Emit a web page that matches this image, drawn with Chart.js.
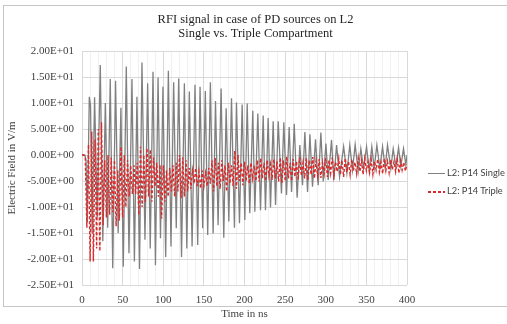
<!DOCTYPE html>
<html>
<head>
<meta charset="utf-8">
<script src="https://cdn.jsdelivr.net/npm/chart.js@4.4.1/dist/chart.umd.min.js"></script>
<style>
  html, body { margin: 0; padding: 0; background: #fff; overflow: hidden; }
  #wrap { position: relative; width: 507px; height: 324px; }
  #frame { position: absolute; left: 3px; top: 5px; width: 504px; height: 302px;
           border: 1px solid #c6c6c6; border-right: none; box-sizing: border-box; }
  #chart { position: absolute; left: 0; top: 0; }
  .leg { position: absolute; left: 428px; height: 12px; line-height: 12px;
         font-family: Lato, "Liberation Sans", sans-serif; font-size: 9.3px; color: #404040; white-space: nowrap; }
  .leg i { display: inline-block; width: 17px; height: 1.5px; vertical-align: middle; margin-right: 2px; }
  .leg .single { background: #808080; }
  .leg .triple { background: repeating-linear-gradient(90deg, #d92b2b 0 3px, transparent 3px 5px); height: 2px; }
</style>
</head>
<body>
<div id="wrap">
  <div id="frame"></div>
  <canvas id="chart" width="507" height="324"></canvas>
  <div class="leg" style="top:167px"><i class="single"></i>L2: P14 Single</div>
  <div class="leg" style="top:185px"><i class="triple"></i>L2: P14 Triple</div>
</div>
<script>
// Single compartment: peaks / troughs (time in ns, field in V/m)
const singleTimes = [
    0, 3.5, 5, 6.5, 9, 10.5, 12.5, 15.5, 18.8, 22.5,
    25.6, 28.7, 31.6, 34.8, 37.8, 41.3, 44.5, 47.9, 50.8, 54.5,
    57.8, 61.5, 64.5, 67.6, 70.8, 73.8, 77.5, 80.8, 84, 87.4,
    90.4, 93.6, 96.6, 99.6, 103, 106.3, 109.5, 112.8, 116, 119,
    122.5, 126, 129, 132.1, 135.5, 139.1, 142.4, 145.3, 148.5, 151.8,
    154.7, 158, 161.4, 164.3, 167.5, 171.2, 174.5, 177.4, 180.7, 184,
    187.6, 190.1, 193.8, 197.1, 200.4, 203.3, 206.5, 210.2, 212.7, 216.4,
    219.7, 223, 225.8, 229.1, 232, 235.3, 238.2, 241.5, 245.5, 248.4,
    251.7, 255, 257.9, 261.2, 264.8, 268.1, 271.4, 274.3, 277.6, 280.5,
    283.7, 287.4, 290.7, 294, 296.9, 300.2, 303, 307.1, 310, 313.3,
    317, 322, 326, 329.6, 332.9, 336.2, 339.9, 343.2, 346.5, 350.2,
    353.4, 356.7, 359.6, 362.9, 366.6, 369.9, 373.1, 376, 380.1, 383,
    386.3, 389.6, 392.4, 395.7, 398.6, 400
];
const singleValues = [
    0, 0, -1, -13, 11.2, 9.5, -15, 11.1, -12, 17.3,
    -16.6, 10, -14, 14.6, -21.8, 14.3, -15, 9.1, -21.5, 17,
    -18.9, 14.6, -20.5, 11.2, -21.9, 17.8, -16.3, 13.8, -18, 16,
    -21.2, 14.9, -16, 13.1, -19.6, 16.2, -17.6, 14, -14.1, 14.7,
    -19.6, 13.8, -18, 12.2, -17.6, 13.5, -17.3, 13.1, -14.1, 12.3,
    -15.4, 14, -15.1, 10.4, -13.5, 12.8, -15.9, 9, -12.8, 10.9,
    -14, 10.1, -13.1, 9.7, -12.5, 9.9, -11.2, 8.5, -10.9, 8,
    -10.6, 7.6, -10.6, 7.1, -10.1, 6.5, -9.6, 6.5, -7.4, 6.3,
    -7.7, 5.4, -7.1, 6, -8.2, 1.9, -5.8, 4.4, -7.1, 4,
    -6.1, 3, -5.8, 4.3, -5.1, 2.2, -4.8, 2.9, -4.8, 1.9,
    -4.2, 1.6, -3.5, 1.9, -2.9, 2, -3.2, 1.2, -2.6, 1.6,
    -2.9, 1.6, -2.6, 1.9, -2.6, 1.6, -2.4, 1.9, -2.6, 1.2,
    -2.2, 1.4, -2.2, 1.2, -1.9, 0
];

// Triple compartment: one sample every 2 ns, 0..400
const tripleStep = 2;
const tripleValues = [
    0, 0, -0.3, -14, 2, -20.5, 4.5, -20.5, 3, -18,            // 0-18
    5, -18.5, 6.3, -13.5, -1, -12, 0, -11.5, -0.5, -11,        // 20-38
    -1, -13.7, -3, -12.6, 1.6, -12, 0, -10, -1, -8,            // 40-58
    -2, -7.5, -2, -7.5, -1.5, -11.5, 1.6, -10, 0, -9,          // 60-78
    1.3, -8, 1, -9, -0.5, -6, -1.5, -8, -1.9, -12.2,           // 80-98
    -2, -9, -3, -8, -2.5, -7, -2, -8, -1.5, -7,                // 100-118
    0, -8.3, -0.5, -8, -1, -7, -2.5, -6.5, -3, -5.5,           // 120-138
    -2.5, -6, -3.2, -6.4, -3, -6, -3.5, -6, -2.5, -5.5,        // 140-158
    -1, -7, -0.6, -6, -1.5, -6.5, -1, -5, -2, -7,              // 160-178
    -1.5, -5.5, -2, -6, 0.8, -6.5, 0, -5, -1.5, -5.8,          // 180-198
    -1.3, -5, -2, -5.5, -1.5, -4.5, -2, -5, -1, -5.1,          // 200-218
    -0.6, -4.5, -1.5, -5, -1, -4, -1.8, -4.8, -0.8, -4.5,      // 220-238
    -1.2, -5.1, -0.5, -5.4, -1, -5, -0.3, -4.5, -1.5, -5,      // 240-258
    -0.8, -4.2, -1.2, -4.8, -0.5, -4, -1.5, -4.5, -0.6, -4.8,  // 260-278
    -1, -3.8, -0.4, -4.5, -1.2, -4, -0.8, -4.4, -1.5, -3.6,    // 280-298
    -0.6, -4.2, -1, -3.5, -0.5, -4, -1.3, -3.2, -0.7, -3.8,    // 300-318
    -1, -4.2, -0.6, -3.3, -1.2, -3.8, -0.8, -3, -1.4, -3.6,    // 320-338
    -0.6, -3.2, -1.1, -3.8, -0.7, -3, -1.3, -3.4, -0.9, -3.7,  // 340-358
    -1.2, -2.9, -0.8, -3.3, -1.4, -3.6, -0.7, -3, -1.2, -3.4,  // 360-378
    -0.9, -2.8, -1.3, -3.2, -0.8, -3.5, -1.1, -2.9, -1.4, -3.1, // 380-398
    -1.8                                                       // 400
];

const yTicks = [-25, -20, -15, -10, -5, 0, 5, 10, 15, 20];
const xLabelStep = 50;

function sci(v) {
    const parts = v.toExponential(2).split('e');
    const n = parseInt(parts[1], 10);
    return parts[0] + 'E' + (n < 0 ? '-' : '+') + String(Math.abs(n)).padStart(2, '0');
}

const singlePts = singleTimes.map((t, i) => ({ x: t, y: singleValues[i] }));
const triplePts = tripleValues.map((v, i) => ({ x: i * tripleStep, y: v }));

const serif = '"Liberation Serif", "DejaVu Serif", serif';

new Chart(document.getElementById('chart'), {
    type: 'line',
    data: {
        datasets: [
            {
                label: 'L2: P14 Single',
                data: singlePts,
                borderColor: '#808080',
                borderWidth: 1.3,
                pointRadius: 0,
                order: 1
            },
            {
                label: 'L2: P14 Triple',
                data: triplePts,
                borderColor: '#d92b2b',
                borderWidth: 1.4,
                borderDash: [3, 2],
                pointRadius: 0,
                order: 0
            }
        ]
    },
    options: {
        responsive: false,
        animation: false,
        layout: { padding: { left: 4, top: 6, right: 0, bottom: 3 } },
        plugins: {
            legend: { display: false },
            tooltip: { enabled: false },
            title: {
                display: true,
                text: ['RFI signal in case of PD sources on L2', 'Single vs. Triple Compartment'],
                color: '#262626',
                font: { family: serif, size: 12.5, weight: 'normal', lineHeight: 1.12 },
                padding: { top: 7, bottom: 10 }
            }
        },
        scales: {
            x: {
                type: 'linear',
                min: 0,
                max: 400,
                border: { display: false },
                grid: {
                    drawTicks: false,
                    color: ctx => (ctx.tick && ctx.tick.value % xLabelStep === 0) ? '#d9d9d9' : '#f0f0f0'
                },
                ticks: {
                    stepSize: 10,
                    autoSkip: false,
                    maxRotation: 0,
                    padding: 9,
                    color: '#404040',
                    font: { family: serif, size: 11 },
                    callback: v => (v % xLabelStep === 0 ? String(v) : '')
                },
                title: {
                    display: true,
                    text: 'Time in ns',
                    color: '#404040',
                    font: { family: serif, size: 11 },
                    padding: { top: 0, bottom: 0 }
                },
                afterFit: s => { s.height = 36; }
            },
            y: {
                min: -25,
                max: 20,
                border: { display: false },
                grid: { drawTicks: false, color: '#d9d9d9' },
                afterBuildTicks: s => { s.ticks = yTicks.map(v => ({ value: v })); },
                ticks: {
                    padding: 8,
                    color: '#404040',
                    font: { family: serif, size: 11 },
                    callback: v => sci(v)
                },
                title: {
                    display: true,
                    text: 'Electric Field in V/m',
                    color: '#404040',
                    font: { family: serif, size: 11 },
                    padding: { top: 2, bottom: 0 }
                },
                afterFit: s => { s.width = 78; }
            },
            // empty box on the right that keeps room for the legend
            side: {
                type: 'linear',
                position: 'right',
                display: true,
                grid: { display: false, drawTicks: false },
                border: { display: false },
                ticks: { display: false },
                afterFit: s => { s.width = 100; }
            }
        }
    }
});
</script>
</body>
</html>
